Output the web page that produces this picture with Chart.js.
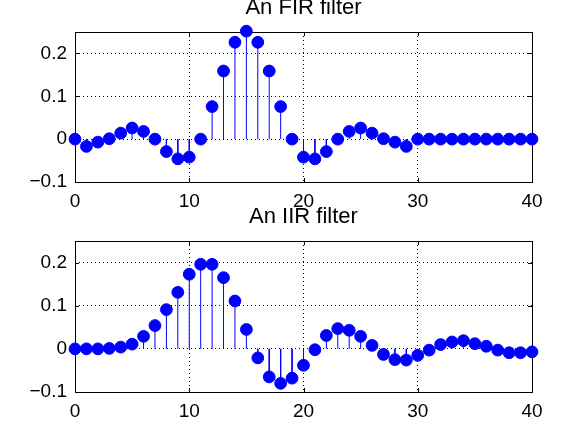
<!DOCTYPE html>
<html>
<head>
<meta charset="utf-8">
<script src="https://cdn.jsdelivr.net/npm/chart.js@4.4.1/dist/chart.umd.min.js"></script>
<style>
  html, body { margin: 0; padding: 0; background: #ffffff; }
  #wrap { position: relative; width: 587px; height: 439px; overflow: hidden; }
  canvas { position: absolute; left: 0; top: 0; }
</style>
</head>
<body>
<div id="wrap">
  <canvas id="fir" width="587" height="439"></canvas>
  <canvas id="iir" width="587" height="439"></canvas>
</div>
<script>
// ---- data ----
const sampleIndex = [0,1,2,3,4,5,6,7,8,9,10,11,12,13,14,15,16,17,18,19,20,
                     21,22,23,24,25,26,27,28,29,30,31,32,33,34,35,36,37,38,39,40];
const firValues = [0, -0.017, -0.007, 0.001, 0.014, 0.026, 0.018, 0, -0.029, -0.046,
                   -0.042, 0, 0.076, 0.159, 0.226, 0.252, 0.226, 0.159, 0.076, 0,
                   -0.042, -0.046, -0.029, 0, 0.018, 0.026, 0.014, 0.001, -0.007, -0.017,
                   0, 0, 0, 0, 0, 0, 0, 0, 0, 0, 0];
const iirValues = [0, 0, 0, 0.001, 0.004, 0.011, 0.029, 0.054, 0.091, 0.131,
                   0.173, 0.196, 0.196, 0.165, 0.111, 0.045, -0.021, -0.065, -0.080, -0.068,
                   -0.038, -0.002, 0.031, 0.047, 0.043, 0.029, 0.008, -0.013, -0.025, -0.026,
                   -0.015, -0.003, 0.010, 0.016, 0.019, 0.012, 0.006, -0.003, -0.009, -0.009, -0.007];
const xTickValues = [0, 10, 20, 30, 40];
const yTickValues = [-0.1, 0, 0.1, 0.2];
const titles = ['An FIR filter', 'An IIR filter'];

const FONT = '"Liberation Sans", Arial, Helvetica, sans-serif';
const BLUE = '#0000ff';

// frame box + inward ticks (MATLAB style)
const framePlugin = {
  id: 'frame',
  beforeDatasetsDraw(chart) {
    const {ctx, chartArea: a, scales} = chart;
    ctx.save();
    ctx.strokeStyle = '#000';
    ctx.lineWidth = 1;
    ctx.setLineDash([]);
    ctx.strokeRect(Math.round(a.left) + 0.5, Math.round(a.top) + 0.5,
                   Math.round(a.right - a.left), Math.round(a.bottom - a.top));
    const tl = 4;
    ctx.beginPath();
    xTickValues.forEach(v => {
      const px = Math.round(scales.x.getPixelForValue(v)) + 0.5;
      ctx.moveTo(px, a.bottom); ctx.lineTo(px, a.bottom - tl);
      ctx.moveTo(px, a.top); ctx.lineTo(px, a.top + tl);
    });
    yTickValues.forEach(v => {
      const py = Math.round(scales.y.getPixelForValue(v)) + 0.5;
      ctx.moveTo(a.left, py); ctx.lineTo(a.left + tl, py);
      ctx.moveTo(a.right, py); ctx.lineTo(a.right - tl, py);
    });
    ctx.stroke();
    ctx.restore();
  }
};

// title centred over the axes box (as MATLAB does)
const axesTitlePlugin = {
  id: 'axesTitle',
  afterDraw(chart, args, opts) {
    const {ctx, chartArea: a} = chart;
    ctx.save();
    ctx.fillStyle = '#000';
    ctx.font = '22px ' + FONT;
    ctx.textAlign = 'center';
    ctx.textBaseline = 'alphabetic';
    ctx.fillText(opts.text, (a.left + a.right) / 2, a.top - 18.5);
    ctx.restore();
  }
};

function stemData(values) {
  const out = [];
  sampleIndex.forEach((n, i) => {
    out.push({x: n, y: 0});
    out.push({x: n, y: values[i]});
    out.push({x: n, y: null});
  });
  return out;
}

function makeChart(id, values, title, padTop, padBottom) {
  return new Chart(document.getElementById(id), {
    type: 'line',
    data: {
      datasets: [
        {
          data: stemData(values),
          borderColor: BLUE,
          borderWidth: 1,
          pointRadius: 0,
          spanGaps: false,
          tension: 0
        },
        {
          data: sampleIndex.map((n, i) => ({x: n, y: values[i]})),
          showLine: false,
          pointRadius: 5.9,
          pointBorderWidth: 1,
          pointBackgroundColor: BLUE,
          pointBorderColor: BLUE,
          clip: false
        }
      ]
    },
    options: {
      responsive: false,
      animation: false,
      events: [],
      layout: { padding: { left: 0, right: 55, top: padTop, bottom: padBottom } },
      plugins: {
        legend: { display: false },
        tooltip: { enabled: false },
        title: { display: false },
        axesTitle: { text: title }
      },
      scales: {
        x: {
          type: 'linear',
          min: 0, max: 40,
          afterFit(scale) { scale.height = 30; },
          afterBuildTicks(scale) { scale.ticks = xTickValues.map(v => ({value: v})); },
          ticks: {
            color: '#000',
            padding: 8,
            maxRotation: 0,
            font: { family: FONT, size: 19 },
            callback: v => String(v)
          },
          grid: { color: '#000', lineWidth: 1, drawTicks: false },
          border: { display: false, dash: [1, 3] }
        },
        y: {
          type: 'linear',
          min: -0.1, max: 0.25,
          afterFit(scale) { scale.width = 75; },
          afterBuildTicks(scale) { scale.ticks = yTickValues.map(v => ({value: v})); },
          ticks: {
            color: '#000',
            padding: 8,
            font: { family: FONT, size: 19 },
            callback: v => {
              const r = Math.round(v * 10) / 10;
              if (r === 0) return '0';
              return (r < 0 ? '\u2212' : '') + Math.abs(r).toFixed(1);
            }
          },
          grid: { color: '#000', lineWidth: 1, drawTicks: false },
          border: { display: false, dash: [1, 3] }
        }
      }
    },
    plugins: [framePlugin, axesTitlePlugin]
  });
}

// top chart: chart area 32..182 ; bottom chart: 241..392
makeChart('fir', firValues, titles[0], 32, 227);
makeChart('iir', iirValues, titles[1], 241, 17);
</script>
</body>
</html>
